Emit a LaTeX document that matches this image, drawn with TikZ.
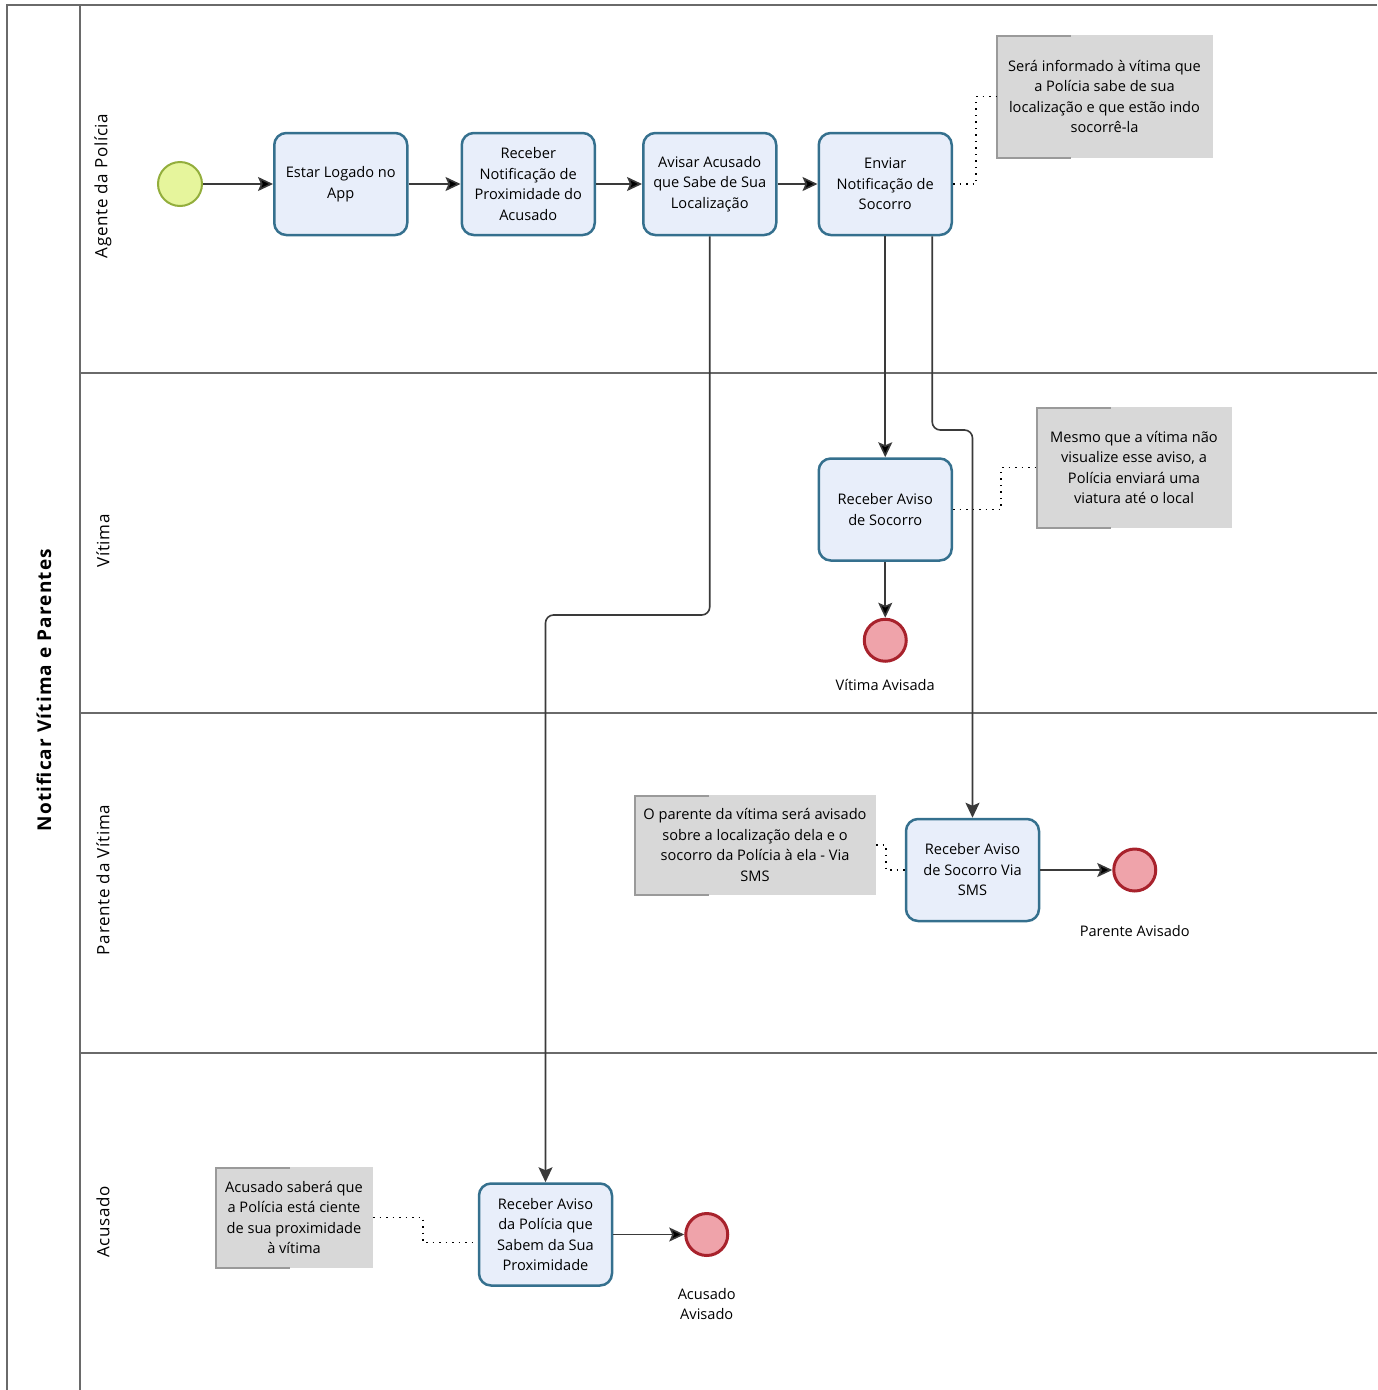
\documentclass[tikz,border=0pt]{standalone}
\usepackage{fontspec}
\setmainfont{Open Sans}
\usetikzlibrary{positioning, arrows.meta, calc}

\definecolor{tarefaFundo}{HTML}{E8EEFA}
\definecolor{tarefaBorda}{HTML}{35708E}
\definecolor{inicioFundo}{HTML}{E6F59C}
\definecolor{inicioBorda}{HTML}{93AE3C}
\definecolor{fimFundo}{HTML}{EFA3AA}
\definecolor{fimBorda}{HTML}{A8222C}
\definecolor{notaFundo}{HTML}{D8D8D8}
\definecolor{notaBorda}{HTML}{9A9A9A}
\definecolor{raia}{HTML}{6A6A6A}
\definecolor{fio}{HTML}{3A3A3A}

\tikzset{
    texto/.style = {font=\fontsize{14.6}{20.5}\selectfont},
    tarefa/.style = {rectangle, rounded corners=12pt, draw=tarefaBorda, line width=2.5pt, fill=tarefaFundo, minimum width=133pt, minimum height=102pt, align=center, texto}, % atividade do processo
    inicio/.style = {circle, draw=inicioBorda, line width=2pt, fill=inicioFundo, minimum size=44pt, inner sep=0pt},
    fim/.style = {circle, draw=fimBorda, line width=3pt, fill=fimFundo, minimum size=42pt, inner sep=0pt},
    rotulo/.style = {texto, align=center, inner sep=0pt},
    % anotacao cinza com o colchete do lado esquerdo
    nota/.style = {rectangle, fill=notaFundo, align=center, texto, path picture={\draw[notaBorda, line width=3pt] ([xshift=75pt]path picture bounding box.north west) -| (path picture bounding box.south west) -- ++(75pt,0);}},
    fluxo/.style = {draw=fio, line width=1.6pt, -{Stealth[length=15pt, width=14pt, inset=3pt]}},
    associacao/.style = {draw=black, line width=1.5pt, dash pattern=on 1.5pt off 5pt},
    raiaTxt/.style = {rotate=90, font=\fontsize{17}{19}\selectfont\addfontfeature{LetterSpace=4}},
    poolTxt/.style = {rotate=90, font=\fontsize{19}{21}\selectfont\bfseries\addfontfeature{LetterSpace=6}}
}

\begin{document}
\begin{tikzpicture}[x=1pt, y=-1pt]
    \useasboundingbox (0,0) rectangle (1377,1390);

    % pool e raias
    \draw[raia, line width=2pt] (1377,5) -- (7,5) -- (7,1390);
    \draw[raia, line width=1.5pt] (80,5) -- (80,1390);
    \foreach \yy in {373, 713, 1053}
        \draw[raia, line width=1.5pt] (80,\yy) -- (1377,\yy);

    \node[poolTxt] (pool) at (44,690) {Notificar Vítima e Parentes};
    \node[raiaTxt] (raiaAgente) at (103,186) {Agente da Polícia};
    \node[raiaTxt] (raiaVitima) at (103,541) {Vítima};
    \node[raiaTxt] (raiaParente) at (103,880) {Parente da Vítima};
    \node[raiaTxt] (raiaAcusado) at (103,1222) {Acusado};

    % agente da policia
    \node[inicio] (inicio) at (180,184) {};
    \node[tarefa] (logado) [right=70pt of inicio] {Estar Logado no\\App};
    \node[tarefa] (receberNot) [right=52pt of logado] {Receber\\Notificação de\\Proximidade do\\Acusado};
    \node[tarefa] (avisarAc) [right=46pt of receberNot] {Avisar Acusado\\que Sabe de Sua\\Localização};
    \node[tarefa] (enviarNot) [right=40pt of avisarAc] {Enviar\\Notificação de\\Socorro};
    \node[nota, minimum width=217pt, minimum height=123pt] (notaA) at (1104.5,96.5) {Será informado à vítima que\\a Polícia sabe de sua\\localização e que estão indo\\socorrê-la};

    % vitima
    \node[tarefa] (avisoSoc) [below=221pt of enviarNot] {Receber Aviso\\de Socorro};
    \node[fim, label={[rotulo, label distance=16pt]below:Vítima Avisada}] (fimVitima) [below=56pt of avisoSoc] {};
    \node[nota, minimum width=196pt, minimum height=121pt] (notaB) at (1134,467.5) {Mesmo que a vítima não\\visualize esse aviso, a\\Polícia enviará uma\\viatura até o local};

    % parente da vitima
    \node[tarefa] (avisoSMS) at (972.5,870) {Receber Aviso\\de Socorro Via\\SMS};
    \node[fim, label={[rotulo, label distance=33pt]below:Parente Avisado}] (fimParente) [right=72pt of avisoSMS] {};
    \node[nota, minimum width=242pt, minimum height=100pt] (notaC) at (755,845) {O parente da vítima será avisado\\sobre a localização dela e o\\socorro da Polícia à ela - Via\\SMS};

    % acusado
    \node[tarefa] (avisoAc) at (545.5,1234.5) {Receber Aviso\\da Polícia que\\Sabem da Sua\\Proximidade};
    \node[fim, label={[rotulo, label distance=31pt]below:Acusado\\Avisado}] (fimAcusado) [right=71pt of avisoAc] {};
    \node[nota, minimum width=158pt, minimum height=101pt] (notaD) at (294,1217.5) {Acusado saberá que\\a Polícia está ciente\\de sua proximidade\\à vítima};

    % fluxo de sequencia
    \path[fluxo] (inicio) edge (logado);
    \path[fluxo] (logado) edge (receberNot);
    \path[fluxo] (receberNot) edge (avisarAc);
    \path[fluxo] (avisarAc) edge (enviarNot);
    \path[fluxo] (enviarNot) edge (avisoSoc);
    \path[fluxo] (avisoSoc) edge (fimVitima);
    \path[fluxo] (avisoSMS) edge (fimParente);
    \path[fluxo] (avisoAc) edge (fimAcusado);

    \coordinate (dobraA) at (545.5,615);
    \coordinate (dobraB) at (972.5,430);
    \draw[fluxo, rounded corners=8pt] (avisarAc.south) |- (dobraA) -- (avisoAc.north);
    \draw[fluxo, rounded corners=8pt] ([xshift=47pt]enviarNot.south) |- (dobraB) -- (avisoSMS.north);

    % associacoes com as anotacoes
    \draw[associacao] (enviarNot.east) -- ++(23,0) |- (notaA.west);
    \draw[associacao] (avisoSoc.east) -- ++(48,0) |- (notaB.west);
    \draw[associacao] (notaC.east) -- ++(10,0) |- (avisoSMS.west);
    \draw[associacao] (notaD.east) -- ++(50,0) |- ([yshift=-8pt]avisoAc.west);
\end{tikzpicture}
\end{document}
